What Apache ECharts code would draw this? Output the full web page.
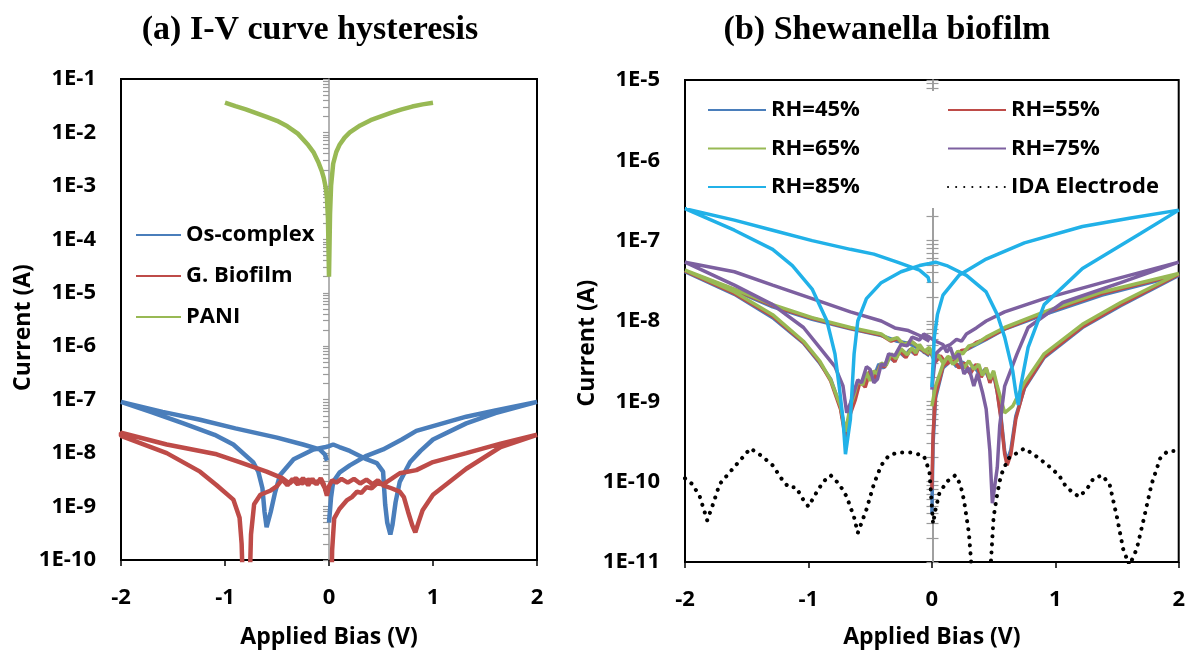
<!DOCTYPE html>
<html>
<head>
<meta charset="utf-8">
<script src="https://cdn.jsdelivr.net/npm/echarts@6/dist/echarts.min.js"></script>
<style>
  html, body { margin: 0; padding: 0; background: #fff; }
  #chart { width: 1188px; height: 654px; }
</style>
</head>
<body>
<div id="chart"></div>
<script>
// ---- data: [bias V, current A], in sweep order ----
// (a) I-V curve hysteresis  (sweep 0 -> 2 -> 0 -> -2 -> 0)
var osComplex = [
    [0.00,5e-10],[0.02,1.5e-9],[0.04,2.9e-9],[0.10,4.3e-9],[0.20,5.9e-9],[0.36,8.9e-9],[0.52,1.17e-8],[0.70,1.8e-8],[0.84,2.6e-8],[1.00,3.2e-8],[1.32,4.8e-8],[1.60,6.3e-8],[2.00,9.1e-8],
    [1.60,5.6e-8],[1.32,3.6e-8],[1.00,1.8e-8],[0.88,1.1e-8],[0.78,6.8e-9],[0.68,2.9e-9],[0.64,1.2e-9],[0.61,4.5e-10],[0.59,3.0e-10],[0.56,5e-10],[0.54,1.1e-9],[0.52,4.5e-9],[0.46,6.5e-9],[0.36,7.7e-9],[0.20,1.1e-8],[0.10,1.3e-8],[0.04,1.45e-8],[0.00,1.35e-8],
    [-0.03,1.3e-8],[-0.15,1.17e-8],[-0.34,7.7e-9],[-0.47,3.9e-9],[-0.52,1.8e-9],[-0.56,8e-10],[-0.60,4.1e-10],[-0.62,8e-10],[-0.64,2.2e-9],[-0.68,4.5e-9],[-0.73,6.8e-9],[-0.92,1.45e-8],[-1.10,2.2e-8],[-1.40,3.6e-8],[-1.70,5.8e-8],[-2.00,9.1e-8],
    [-2.00,9.5e-8],[-1.60,5.9e-8],[-1.24,4.2e-8],[-0.90,2.9e-8],[-0.50,1.95e-8],[-0.25,1.45e-8],[-0.09,1.17e-8],[-0.04,9.5e-9],[-0.02,7.2e-9]
];
var gBiofilm = [
    [0.02,1e-11],[0.03,1.5e-10],[0.05,6e-10],[0.10,9e-10],[0.17,1.3e-9],[0.22,1.5e-9],[0.27,1.9e-9],[0.31,1.8e-9],[0.36,2.3e-9],[0.41,2.2e-9],[0.46,2.7e-9],[0.52,2.6e-9],[0.60,3.3e-9],[0.68,4.2e-9],[0.84,4.8e-9],[1.00,6.8e-9],[1.32,1.0e-8],[1.65,1.5e-8],[2.00,2.2e-8],
    [1.65,1.3e-8],[1.32,5.1e-9],[1.00,1.66e-9],[0.90,8.5e-10],[0.86,5e-10],[0.83,3.3e-10],[0.80,4.5e-10],[0.76,8e-10],[0.72,1.5e-9],[0.68,1.9e-9],[0.60,2.2e-9],[0.52,2.5e-9],[0.47,3.1e-9],[0.42,2.6e-9],[0.36,3.2e-9],[0.30,2.7e-9],[0.24,3.3e-9],[0.18,2.8e-9],[0.12,3.3e-9],[0.07,2.8e-9],[0.03,3.1e-9],[0.00,2.4e-9],[-0.02,1.6e-9],
    [-0.05,2.6e-9],[-0.08,3.4e-9],[-0.12,2.6e-9],[-0.16,3.3e-9],[-0.20,2.5e-9],[-0.25,3.4e-9],[-0.30,2.6e-9],[-0.35,3.3e-9],[-0.40,2.5e-9],[-0.45,3.2e-9],[-0.50,2.4e-9],[-0.56,2.0e-9],[-0.66,1.66e-9],[-0.72,1.1e-9],[-0.75,3e-10],[-0.77,1e-11],[-0.82,1e-11],[-0.84,2e-10],[-0.86,6.2e-10],[-0.92,1.35e-9],[-1.08,2.5e-9],[-1.24,4.5e-9],[-1.56,1.0e-8],[-2.00,2.1e-8],
    [-2.00,2.4e-8],[-1.56,1.45e-8],[-1.08,9.5e-9],[-0.86,6.8e-9],[-0.60,4.5e-9],[-0.45,3.4e-9],[-0.38,2.7e-9],[-0.32,3.4e-9],[-0.26,2.7e-9],[-0.20,3.2e-9],[-0.14,2.8e-9],[-0.08,3.1e-9],[-0.04,2.2e-9],[-0.02,1.7e-9]
];
var pani = [
    [-1.00,3.6e-2],[-0.90,3.1e-2],[-0.80,2.7e-2],[-0.70,2.3e-2],[-0.60,1.95e-2],[-0.50,1.65e-2],[-0.40,1.3e-2],[-0.30,9.5e-3],[-0.20,5.8e-3],[-0.15,4.3e-3],[-0.10,2.7e-3],[-0.07,1.9e-3],[-0.05,1.4e-3],[-0.03,9e-4],[-0.02,6e-4],[-0.01,2.5e-4],[0.00,2e-5],
    [0.01,3e-4],[0.02,1e-3],[0.04,2.6e-3],[0.07,4.3e-3],[0.10,5.8e-3],[0.15,8e-3],[0.20,1.0e-2],[0.30,1.35e-2],[0.40,1.7e-2],[0.50,2.0e-2],[0.60,2.35e-2],[0.70,2.7e-2],[0.80,3.05e-2],[0.90,3.35e-2],[1.00,3.6e-2]
];

// (b) Shewanella biofilm
var rh45 = [
    [0.00,4e-11],[0.01,3e-10],[0.03,1.1e-9],[0.09,2.6e-9],[0.19,3.6e-9],[0.28,4.4e-9],[0.44,5.9e-9],[0.59,7.9e-9],[0.91,1.2e-8],[1.38,2.1e-8],[2.00,3.7e-8],
    [1.53,1.55e-8],[1.22,8.3e-9],[0.91,3.5e-9],[0.75,1.45e-9],[0.68,6.5e-10],[0.64,2.5e-10],[0.61,1.8e-10],[0.59,2.4e-10],[0.56,6.5e-10],[0.53,1.3e-9],[0.50,2.2e-9],[0.47,1.8e-9],[0.43,2.5e-9],[0.39,2.1e-9],[0.34,2.8e-9],[0.30,2.3e-9],[0.25,3.1e-9],[0.20,2.7e-9],[0.15,3.4e-9],[0.10,3.0e-9],[0.05,3.6e-9],[0.02,3.2e-9],[-0.02,4.4e-9],
    [-0.06,4.0e-9],[-0.10,4.8e-9],[-0.14,3.9e-9],[-0.18,4.4e-9],[-0.22,3.6e-9],[-0.27,4.2e-9],[-0.31,3.2e-9],[-0.35,3.6e-9],[-0.39,2.6e-9],[-0.43,2.9e-9],[-0.47,2.0e-9],[-0.51,2.3e-9],[-0.55,1.6e-9],[-0.59,1.75e-9],[-0.63,1.1e-9],[-0.66,7.5e-10],[-0.70,3.8e-10],[-0.74,8.5e-10],[-0.82,1.9e-9],[-0.91,3.0e-9],[-1.04,5.3e-9],[-1.29,1.1e-8],[-1.60,2.15e-8],[-2.00,4.1e-8],
    [-2.00,4.3e-8],[-1.60,2.4e-8],[-1.29,1.5e-8],[-0.97,1.05e-8],[-0.66,8.0e-9],[-0.41,6.6e-9],[-0.28,5.6e-9],[-0.19,5.3e-9],[-0.10,4.5e-9],[-0.02,3.7e-9]
];
var rh55 = [
    [0.00,8e-11],[0.01,4e-10],[0.03,1.2e-9],[0.09,2.7e-9],[0.14,3.3e-9],[0.19,3.5e-9],[0.24,4.3e-9],[0.28,4.4e-9],[0.36,5.4e-9],[0.44,6.0e-9],[0.59,8.0e-9],[0.91,1.25e-8],[1.38,2.2e-8],[2.00,3.8e-8],
    [1.53,1.6e-8],[1.22,8.5e-9],[0.91,3.6e-9],[0.75,1.5e-9],[0.68,6e-10],[0.64,2.2e-10],[0.61,1.6e-10],[0.59,2.2e-10],[0.56,6e-10],[0.53,1.3e-9],[0.50,2.3e-9],[0.47,1.7e-9],[0.44,2.6e-9],[0.40,2.0e-9],[0.36,2.9e-9],[0.31,2.2e-9],[0.27,3.0e-9],[0.22,2.6e-9],[0.17,3.4e-9],[0.12,2.9e-9],[0.07,3.7e-9],[0.03,3.1e-9],[-0.02,4.5e-9],
    [-0.06,4.1e-9],[-0.10,4.9e-9],[-0.13,3.8e-9],[-0.17,4.5e-9],[-0.21,3.5e-9],[-0.26,4.3e-9],[-0.30,3.1e-9],[-0.34,3.7e-9],[-0.38,2.7e-9],[-0.42,2.8e-9],[-0.46,1.9e-9],[-0.50,2.4e-9],[-0.54,1.5e-9],[-0.58,1.8e-9],[-0.62,1.05e-9],[-0.66,7e-10],[-0.70,3.5e-10],[-0.74,8e-10],[-0.82,1.8e-9],[-0.91,3.1e-9],[-1.04,5.4e-9],[-1.29,1.15e-8],[-1.60,2.2e-8],[-2.00,4.2e-8],
    [-2.00,4.4e-8],[-1.60,2.45e-8],[-1.29,1.55e-8],[-0.97,1.08e-8],[-0.66,8.1e-9],[-0.41,6.7e-9],[-0.33,5.6e-9],[-0.28,6.0e-9],[-0.22,5.0e-9],[-0.16,5.5e-9],[-0.10,4.6e-9],[-0.02,3.8e-9]
];
var rh65 = [
    [0.00,8.7e-10],[0.03,1.55e-9],[0.09,2.9e-9],[0.13,3.6e-9],[0.17,3.4e-9],[0.21,4.2e-9],[0.25,3.9e-9],[0.30,4.9e-9],[0.36,5.2e-9],[0.44,6.3e-9],[0.59,8.3e-9],[0.91,1.3e-8],[1.38,2.3e-8],[2.00,3.9e-8],
    [1.53,1.7e-8],[1.22,9.1e-9],[0.91,3.9e-9],[0.75,1.7e-9],[0.655,8.7e-10],[0.59,7.2e-10],[0.53,1.55e-9],[0.50,2.4e-9],[0.47,1.9e-9],[0.44,2.6e-9],[0.41,2.1e-9],[0.38,2.9e-9],[0.34,2.5e-9],[0.30,3.2e-9],[0.26,2.6e-9],[0.22,3.4e-9],[0.17,2.9e-9],[0.13,3.6e-9],[0.09,3.0e-9],[0.05,3.8e-9],[0.02,3.3e-9],[-0.02,4.7e-9],
    [-0.06,4.2e-9],[-0.10,5.1e-9],[-0.13,4.0e-9],[-0.16,4.6e-9],[-0.20,3.8e-9],[-0.25,4.5e-9],[-0.29,3.4e-9],[-0.33,3.9e-9],[-0.37,2.8e-9],[-0.41,3.0e-9],[-0.44,2.2e-9],[-0.47,2.4e-9],[-0.50,1.8e-9],[-0.53,2.3e-9],[-0.56,1.6e-9],[-0.60,1.8e-9],[-0.63,1.2e-9],[-0.66,8.7e-10],[-0.70,4.2e-10],[-0.74,8.7e-10],[-0.82,1.85e-9],[-0.91,3.2e-9],[-1.04,5.6e-9],[-1.29,1.2e-8],[-1.60,2.3e-8],[-2.00,4.3e-8],
    [-2.00,4.5e-8],[-1.60,2.5e-8],[-1.29,1.6e-8],[-0.97,1.1e-8],[-0.66,8.3e-9],[-0.41,6.9e-9],[-0.34,5.8e-9],[-0.28,6.2e-9],[-0.23,5.1e-9],[-0.17,5.6e-9],[-0.10,4.7e-9],[-0.02,3.9e-9]
];
var rh75 = [
    [0.00,1.4e-9],[0.03,3.9e-9],[0.08,4.6e-9],[0.15,5.1e-9],[0.20,5.9e-9],[0.24,5.6e-9],[0.28,6.9e-9],[0.36,8.2e-9],[0.44,1.0e-8],[0.59,1.3e-8],[0.91,1.9e-8],[1.38,3.0e-8],[2.00,5.4e-8],
    [1.53,3.0e-8],[1.06,1.7e-8],[0.78,8.3e-9],[0.69,3.9e-9],[0.59,1.55e-9],[0.55,5e-10],[0.53,1.5e-10],[0.49,5.4e-11],[0.47,2.4e-10],[0.44,8e-10],[0.41,1.3e-9],[0.37,2.2e-9],[0.34,1.55e-9],[0.30,2.6e-9],[0.26,2.2e-9],[0.22,3.9e-9],[0.18,3.4e-9],[0.15,4.7e-9],[0.12,4.1e-9],[0.09,5.1e-9],[0.03,5.6e-9],[-0.02,6.3e-9],
    [-0.065,6.9e-9],[-0.10,5.8e-9],[-0.16,6.3e-9],[-0.20,4.9e-9],[-0.25,5.1e-9],[-0.30,3.7e-9],[-0.35,3.9e-9],[-0.38,2.8e-9],[-0.41,2.9e-9],[-0.44,1.9e-9],[-0.47,1.7e-9],[-0.50,2.5e-9],[-0.53,2.7e-9],[-0.57,1.7e-9],[-0.60,1.85e-9],[-0.66,9.5e-10],[-0.69,7.2e-10],[-0.72,1.55e-9],[-0.785,2.7e-9],[-0.91,4.7e-9],[-1.04,8.3e-9],[-1.29,1.6e-8],[-1.60,2.8e-8],[-2.00,5.4e-8],
    [-2.00,5.7e-8],[-1.60,4.1e-8],[-1.29,2.8e-8],[-0.97,1.9e-8],[-0.66,1.3e-8],[-0.41,1.0e-8],[-0.30,8.2e-9],[-0.19,7.6e-9],[-0.10,6.6e-9],[-0.02,5.6e-9]
];
var rh85 = [
    [0.00,1.5e-9],[0.02,6.3e-9],[0.045,1.2e-8],[0.09,2.1e-8],[0.22,3.7e-8],[0.44,5.9e-8],[0.75,9.4e-8],[1.22,1.5e-7],[1.60,1.9e-7],[2.00,2.4e-7],
    [1.69,1.23e-7],[1.22,4.5e-8],[0.91,1.6e-8],[0.78,4.7e-9],[0.72,1.55e-9],[0.70,9e-10],[0.68,1.3e-9],[0.655,2.4e-9],[0.59,6.3e-9],[0.53,1.2e-8],[0.44,2.3e-8],[0.28,3.7e-8],[0.12,4.9e-8],[0.03,5.4e-8],[-0.02,5.2e-8],
    [-0.10,4.9e-8],[-0.25,4.1e-8],[-0.41,3.0e-8],[-0.53,1.9e-8],[-0.60,1.0e-8],[-0.63,3.9e-9],[-0.66,6e-10],[-0.70,2.2e-10],[-0.72,6e-10],[-0.75,1.5e-9],[-0.785,3.9e-9],[-0.85,1.0e-8],[-0.97,2.5e-8],[-1.13,4.9e-8],[-1.29,7.8e-8],[-1.60,1.35e-7],[-2.00,2.5e-7],
    [-2.00,2.6e-7],[-1.60,1.8e-7],[-1.29,1.35e-7],[-0.97,1.0e-7],[-0.66,7.8e-8],[-0.47,6.8e-8],[-0.28,5.4e-8],[-0.10,4.3e-8],[-0.03,3.5e-8],[-0.02,3.0e-8]
];
var idaElectrode = [
    [-2.00,1.1e-10],[-1.94,9.3e-11],[-1.88,6.5e-11],[-1.82,3.3e-11],[-1.77,5.4e-11],[-1.72,9.3e-11],[-1.63,1.35e-10],[-1.54,1.95e-10],[-1.47,2.6e-10],[-1.38,2.1e-10],[-1.29,1.6e-10],[-1.22,1.1e-10],[-1.16,8.5e-11],[-1.10,8.5e-11],[-1.04,5.9e-11],[-1.00,4.9e-11],
    [-0.94,7.1e-11],[-0.88,1.0e-10],[-0.82,1.2e-10],[-0.75,9.3e-11],[-0.69,6.5e-11],[-0.63,3.6e-11],[-0.60,2.3e-11],[-0.53,4.5e-11],[-0.47,9.3e-11],[-0.41,1.6e-10],[-0.35,2.1e-10],[-0.28,2.3e-10],[-0.16,2.3e-10],[-0.065,2.1e-10],[-0.02,1.35e-10],
    [0.00,5e-11],[0.01,3e-11],[0.03,4.5e-11],[0.06,7.1e-11],[0.12,1.0e-10],[0.19,1.2e-10],[0.23,9.3e-11],[0.26,5.9e-11],[0.30,2.3e-11],[0.33,6e-12],[0.40,3e-12],[0.47,6e-12],[0.50,3.6e-11],[0.53,7.1e-11],[0.56,1.2e-10],[0.62,1.95e-10],[0.75,2.6e-10],
    [0.84,2.1e-10],[0.94,1.6e-10],[1.03,1.2e-10],[1.09,8.5e-11],[1.19,6.5e-11],[1.25,7.8e-11],[1.31,1.1e-10],[1.38,1.2e-10],[1.44,9.3e-11],[1.50,3.6e-11],[1.55,1.45e-11],[1.60,9e-12],[1.66,1.45e-11],[1.72,3.6e-11],[1.78,9.3e-11],[1.85,1.95e-10],[1.91,2.4e-10],[2.00,2.4e-10]
];

var xTicks = [-2, 2, 1];          // min, max, interval
var leftDecades = [-10, -1];      // 1E-10 .. 1E-1
var rightDecades = [-11, -5];     // 1E-11 .. 1E-5

// log-spaced tick marks on the centre (V = 0) axis, in decade units
function centreTicks(lo, hi) {
    var t = [];
    for (var n = lo; n < hi; n++) {
        for (var k = 1; k < 10; k++) t.push(n + Math.log10(k));
    }
    t.push(hi);
    return t;
}

var FONT = 'Open Sans';
var txt = { fontFamily: FONT, fontWeight: 'bold', fontSize: 22, color: '#000' };

function xAxisOf(grid, gap) {
    return {
        gridIndex: grid, type: 'value', min: xTicks[0], max: xTicks[1], interval: xTicks[2],
        axisLine: { show: false, onZero: false },
        axisTick: { show: true, length: 6, lineStyle: { color: '#000', width: 1.5 } },
        axisLabel: Object.assign({ margin: 27 }, txt),
        splitLine: { show: false },
        name: 'Applied Bias (V)', nameLocation: 'middle', nameGap: gap,
        nameTextStyle: Object.assign({}, txt, { fontSize: 23 })
    };
}
// shiftDown moves the rotated axis title down the page
function labelAxis(grid, dec, gap, shiftDown) {
    return {
        gridIndex: grid, type: 'log', logBase: 10, min: Math.pow(10, dec[0]), max: Math.pow(10, dec[1]),
        axisLine: { show: false, onZero: false },
        axisTick: { show: false },
        splitLine: { show: false },
        axisLabel: Object.assign({ margin: 25, formatter: function (v) { return '1E' + Math.round(Math.log10(v)); } }, txt),
        name: 'Current (A)', nameLocation: 'middle', nameGap: gap,
        nameTextStyle: Object.assign({}, txt, { fontSize: 23, padding: [0, 2 * shiftDown, 0, 0] })
    };
}
function centreAxis(grid, dec, offset, inside) {
    return {
        gridIndex: grid, type: 'value', min: dec[0], max: dec[1], position: 'left', offset: offset,
        axisLine: { show: true, onZero: false, lineStyle: { color: '#9a9a9a', width: 1.5 } },
        axisTick: { show: true, inside: inside, length: 6, customValues: centreTicks(dec[0], dec[1]), lineStyle: { color: '#9a9a9a', width: 1.2 } },
        axisLabel: { show: false },
        splitLine: { show: false }
    };
}
function line(name, data, color, width, xi, yi) {
    return {
        name: name, type: 'line', data: data, xAxisIndex: xi, yAxisIndex: yi,
        showSymbol: false, symbol: 'none', animation: false,
        lineStyle: { color: color, width: width }, itemStyle: { color: color }
    };
}

var chart = echarts.init(document.getElementById('chart'));
var legendBase = {
    orient: 'vertical', itemHeight: 14,
    itemStyle: { color: 'transparent', borderColor: 'transparent', borderWidth: 0 },
    textStyle: Object.assign({ lineHeight: 26 }, txt)
};
chart.setOption({
    animation: false,
    backgroundColor: '#fff',
    title: [
        { text: '(a) I-V curve hysteresis', left: 305, top: 8, textAlign: 'center',
          textStyle: { fontFamily: 'Liberation Serif', fontWeight: 'bold', fontSize: 34, color: '#000' } },
        { text: '(b) Shewanella biofilm', left: 882, top: 8, textAlign: 'center',
          textStyle: { fontFamily: 'Liberation Serif', fontWeight: 'bold', fontSize: 34, color: '#000' } }
    ],
    grid: [
        { left: 121, top: 79, width: 416, height: 491, show: true, borderColor: '#000', borderWidth: 2 },
        { left: 685, top: 80, width: 495, height: 493, show: true, borderColor: '#000', borderWidth: 2 }
    ],
    legend: [
        Object.assign({}, legendBase, { left: 130, top: 217, itemWidth: 45, itemGap: 15,
            data: ['Os-complex', 'G. Biofilm', 'PANI'] }),
        Object.assign({}, legendBase, { left: 687, top: 91, itemWidth: 58, itemGap: 12.5,
            padding: [6, 80, 8, 20], backgroundColor: '#fff',
            data: ['RH=45%', 'RH=65%', 'RH=85%'] }),
        Object.assign({}, legendBase, { left: 940, top: 91, itemWidth: 58, itemGap: 12.5,
            padding: [6, 12, 8, 7], backgroundColor: '#fff',
            data: ['RH=55%', 'RH=75%', 'IDA Electrode'] })
    ],
    xAxis: [xAxisOf(0, 66), xAxisOf(1, 64)],
    yAxis: [
        labelAxis(0, leftDecades, 85, 8),
        centreAxis(0, leftDecades, -208, false),
        labelAxis(1, rightDecades, 80, 22),
        centreAxis(1, rightDecades, -247.5, false),
        centreAxis(1, rightDecades, -247.5, true)
    ],
    series: [
        line('Os-complex', osComplex, '#4A7EBB', 4.5, 0, 0),
        line('G. Biofilm', gBiofilm, '#BE4B48', 4.5, 0, 0),
        line('PANI', pani, '#98B954', 4.5, 0, 0),
        line('RH=45%', rh45, '#4A7EBB', 3.5, 1, 2),
        line('RH=55%', rh55, '#BE4B48', 3.5, 1, 2),
        line('RH=65%', rh65, '#98B954', 3.5, 1, 2),
        line('RH=75%', rh75, '#7D60A0', 3.5, 1, 2),
        line('RH=85%', rh85, '#21B1E8', 3.5, 1, 2),
        Object.assign(line('IDA Electrode', idaElectrode, '#000', 4, 1, 2), {
            lineStyle: { color: '#000', width: 4, type: [0.1, 8], cap: 'round' }
        })
    ]
});
</script>
</body>
</html>
